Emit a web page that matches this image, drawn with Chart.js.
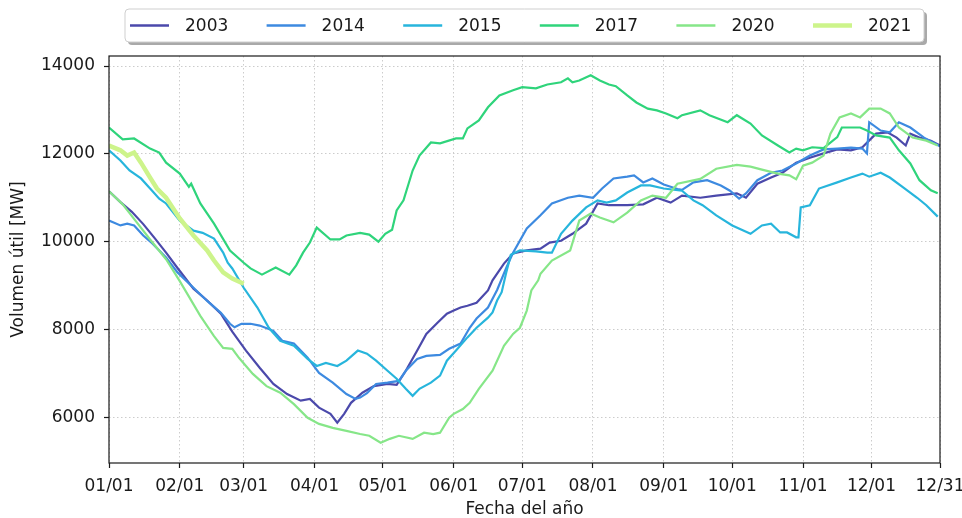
<!DOCTYPE html>
<html>
<head>
<meta charset="utf-8">
<script src="https://cdn.jsdelivr.net/npm/chart.js@4/dist/chart.umd.min.js"></script>
<style>
  html, body { margin: 0; padding: 0; background: #fff; }
  #wrap { width: 962px; height: 518px; }
</style>
</head>
<body>
<div id="wrap"><canvas id="c" width="962" height="518"></canvas></div>
<script>
// Day of year (0 = 1 January) and useful volume [MW] for each year
const days2003 = [0,5,10,15,20,25,30,37,43,49,54,60,66,72,78,84,88,92,97,100,103,106,111,116,122,126,130,135,139,144,148,151,154,157,161,166,168,173,177,183,189,193,198,203,209,214,219,227,234,240,246,251,259,266,275,279,284,290,295,301,307,313,319,325,330,336,341,345,349,351,355,360,364];
const vol2003  = [11150,10900,10680,10400,10080,9750,9400,8930,8660,8360,7950,7520,7130,6760,6530,6380,6420,6220,6080,5880,6080,6330,6560,6710,6760,6740,7060,7520,7900,8160,8360,8430,8500,8540,8610,8890,9120,9500,9730,9800,9840,9980,10020,10180,10410,10870,10830,10830,10850,11000,10890,11050,11000,11050,11100,11000,11320,11460,11570,11800,11910,12010,12100,12080,12150,12460,12490,12370,12190,12460,12370,12300,12190];

const days2014 = [0,5,8,11,15,19,25,30,37,43,49,53,55,58,62,66,72,76,81,87,92,98,104,108,110,113,117,122,127,130,135,139,145,149,154,158,161,166,170,174,177,183,189,194,201,206,212,216,221,227,230,234,238,243,249,251,256,262,268,272,276,279,284,290,295,301,307,313,319,325,330,332,333,338,342,346,351,357,364];
const vol2014  = [10480,10370,10410,10370,10140,9960,9640,9300,8950,8650,8380,8130,8050,8130,8130,8090,7970,7740,7680,7360,7010,6790,6530,6420,6450,6550,6760,6790,6830,7060,7330,7400,7420,7560,7680,8040,8250,8500,8900,9400,9750,10300,10600,10870,11000,11050,11000,11210,11440,11480,11510,11350,11440,11300,11200,11180,11350,11400,11280,11160,10980,11100,11400,11570,11620,11780,11960,12100,12120,12140,12120,12010,12720,12530,12490,12720,12600,12370,12170];

const days2015 = [0,5,9,14,18,22,25,31,37,41,46,50,52,54,59,65,70,75,81,87,91,95,100,104,109,113,117,122,126,130,133,136,141,145,148,152,157,161,166,168,170,172,174,176,180,187,192,194,198,203,209,214,218,222,227,233,237,243,251,256,260,266,273,281,286,290,294,297,301,302,303,307,311,319,325,330,333,338,342,348,354,358,363];
const vol2015  = [12080,11850,11620,11440,11210,10980,10870,10480,10250,10200,10070,9750,9520,9390,8950,8500,8040,7740,7630,7330,7170,7240,7170,7290,7520,7450,7290,7060,6880,6650,6490,6650,6790,6950,7290,7520,7820,8040,8270,8390,8660,8850,9300,9700,9800,9780,9750,9750,10180,10480,10780,10940,10890,10940,11120,11280,11280,11210,11160,10940,10830,10600,10370,10180,10370,10410,10210,10210,10100,10100,10780,10830,11210,11350,11460,11550,11480,11570,11460,11230,11000,10830,10570];

const days2017 = [0,6,11,18,22,25,31,35,36,40,46,53,59,62,67,73,79,82,85,88,91,97,101,104,110,114,118,121,124,126,129,133,136,141,145,152,155,157,162,166,171,177,181,187,192,198,201,203,206,211,215,219,222,227,231,236,240,244,249,251,259,263,271,275,281,286,293,298,301,304,308,313,319,321,325,329,332,336,342,346,351,355,360,363];
const vol2017  = [12600,12330,12350,12120,12030,11800,11550,11250,11320,10870,10410,9800,9520,9390,9250,9410,9250,9460,9750,9980,10320,10050,10050,10140,10200,10160,10000,10180,10270,10710,10940,11620,11960,12260,12240,12350,12350,12580,12760,13060,13330,13450,13520,13490,13580,13630,13720,13630,13670,13790,13670,13580,13540,13330,13170,13030,12990,12920,12810,12880,12990,12880,12720,12880,12690,12420,12190,12030,12120,12080,12150,12130,12380,12600,12600,12600,12530,12420,12370,12080,11780,11400,11170,11100];

const days2020 = [0,6,12,18,25,31,40,46,50,54,57,63,69,75,81,87,92,98,104,110,114,119,123,127,133,138,142,145,149,151,155,158,162,168,173,177,180,183,185,188,189,194,202,206,211,215,221,227,233,238,244,249,259,266,275,281,286,293,298,301,304,308,313,316,320,325,329,333,338,342,346,352,358,363];
const vol2020  = [11150,10850,10450,10050,9600,9100,8310,7850,7580,7560,7350,6990,6710,6560,6300,5990,5850,5760,5690,5620,5580,5420,5510,5580,5510,5650,5620,5650,5990,6080,6190,6330,6650,7060,7630,7900,8040,8430,8890,9120,9270,9570,9800,10480,10640,10550,10440,10660,10940,11050,11000,11320,11430,11660,11750,11710,11640,11550,11510,11420,11730,11800,11960,12460,12830,12920,12830,13030,13030,12920,12600,12370,12300,12190];

const days2021 = [0,5,8,11,14,18,21,25,31,37,43,46,50,54,59];
const vol2021  = [12190,12080,11960,12030,11800,11460,11210,11000,10530,10140,9800,9570,9300,9160,9040];

const yearLabels = ['2003','2014','2015','2017','2020','2021'];
const yearColors = ['#4b49ab','#3d8ae0','#27b5dc','#2fd47b','#86e688','#cdf48b'];

// Month starts on the x axis and their labels
const monthDays   = [0,31,59,90,120,151,181,212,243,273,304,334,364];
const monthLabels = ['01/01','02/01','03/01','04/01','05/01','06/01','07/01','08/01','09/01','10/01','11/01','12/01','12/31'];
const volumeTicks = [6000,8000,10000,12000,14000];

const FONT = 'DejaVu Sans';
const INK = '#1a1a1a';

function pairs(xs, ys) { return xs.map((x, i) => ({ x: x, y: ys[i] })); }

const seriesDays = [days2003, days2014, days2015, days2017, days2020, days2021];
const seriesVals = [vol2003, vol2014, vol2015, vol2017, vol2020, vol2021];

const datasets = yearLabels.map((lab, i) => ({
  label: lab,
  data: pairs(seriesDays[i], seriesVals[i]),
  borderColor: yearColors[i],
  backgroundColor: yearColors[i],
  borderWidth: lab === '2021' ? 4.5 : 2.2,
  pointRadius: 0,
  tension: 0,
  fill: false,
  order: yearLabels.length - i
}));

// Frame around the plotting area
const framePlugin = {
  id: 'frame',
  afterDatasetsDraw(chart) {
    const a = chart.chartArea, ctx = chart.ctx;
    ctx.save();
    ctx.strokeStyle = INK;
    ctx.lineWidth = 1.2;
    ctx.strokeRect(a.left, a.top, a.right - a.left, a.bottom - a.top);
    ctx.restore();
  }
};

// Boxed legend above the plot, in one row, with a drop shadow
const boxLegendPlugin = {
  id: 'boxLegend',
  afterDraw(chart) {
    const ctx = chart.ctx, a = chart.chartArea;
    const w = 799, h = 33;
    const cx = (a.left + a.right) / 2;
    const x0 = cx - w / 2, y0 = 9;
    const r = 4;
    function rr(x, y) {
      ctx.beginPath();
      ctx.moveTo(x + r, y);
      ctx.lineTo(x + w - r, y);
      ctx.quadraticCurveTo(x + w, y, x + w, y + r);
      ctx.lineTo(x + w, y + h - r);
      ctx.quadraticCurveTo(x + w, y + h, x + w - r, y + h);
      ctx.lineTo(x + r, y + h);
      ctx.quadraticCurveTo(x, y + h, x, y + h - r);
      ctx.lineTo(x, y + r);
      ctx.quadraticCurveTo(x, y, x + r, y);
      ctx.closePath();
    }
    ctx.save();
    rr(x0 + 3, y0 + 3);
    ctx.fillStyle = '#a9a9a9';
    ctx.fill();
    rr(x0, y0);
    ctx.fillStyle = '#ffffff';
    ctx.fill();
    ctx.strokeStyle = '#cfcfcf';
    ctx.lineWidth = 1;
    ctx.stroke();

    ctx.font = '17px "' + FONT + '"';
    ctx.textBaseline = 'middle';
    ctx.textAlign = 'left';
    const step = 136.6;
    const yMid = y0 + h / 2;
    chart.data.datasets.forEach((ds, i) => {
      const lx = x0 + 5 + i * step;
      ctx.beginPath();
      ctx.moveTo(lx, yMid);
      ctx.lineTo(lx + 39, yMid);
      ctx.strokeStyle = ds.borderColor;
      ctx.lineWidth = ds.label === '2021' ? 4.5 : 2.4;
      ctx.stroke();
      ctx.fillStyle = INK;
      ctx.fillText(ds.label, lx + 55, yMid + 1);
    });
    ctx.restore();
  }
};

const gridOpts = {
  color: '#cccccc',
  lineWidth: 1,
  drawTicks: true,
  tickLength: 5,
  tickColor: INK,
  tickWidth: 1.2,
  tickBorderDash: []
};

new Chart(document.getElementById('c'), {
  type: 'line',
  data: { datasets: datasets },
  options: {
    responsive: false,
    animation: false,
    events: [],
    layout: { padding: { top: 56, right: 22, left: 0, bottom: 0 } },
    plugins: { legend: { display: false }, tooltip: { enabled: false } },
    scales: {
      x: {
        type: 'linear',
        min: 0,
        max: 364,
        afterBuildTicks(scale) { scale.ticks = monthDays.map(v => ({ value: v })); },
        afterFit(scale) { scale.height = 55; scale.paddingLeft = 0; scale.paddingRight = 0; },
        ticks: {
          autoSkip: false,
          maxRotation: 0,
          padding: 8,
          color: INK,
          font: { family: FONT, size: 17 },
          callback(v) { const k = monthDays.indexOf(v); return k >= 0 ? monthLabels[k] : ''; }
        },
        grid: gridOpts,
        border: { display: false, dash: [1.5, 2.5] },
        title: {
          display: true,
          text: 'Fecha del año',
          color: INK,
          font: { family: FONT, size: 17, lineHeight: 1 },
          padding: { top: 1, bottom: 0 }
        }
      },
      y: {
        min: 4960,
        max: 14228,
        afterBuildTicks(scale) { scale.ticks = volumeTicks.map(v => ({ value: v })); },
        afterFit(scale) { scale.width = 109; scale.paddingTop = 0; scale.paddingBottom = 0; },
        ticks: {
          padding: 9,
          color: INK,
          font: { family: FONT, size: 17 },
          callback(v) { return String(v); }
        },
        grid: gridOpts,
        border: { display: false, dash: [1.5, 2.5] },
        title: {
          display: true,
          text: 'Volumen útil [MW]',
          color: INK,
          font: { family: FONT, size: 17, lineHeight: 1.2 },
          padding: { top: 8, bottom: 0 }
        }
      }
    }
  },
  plugins: [framePlugin, boxLegendPlugin]
});
</script>
</body>
</html>
